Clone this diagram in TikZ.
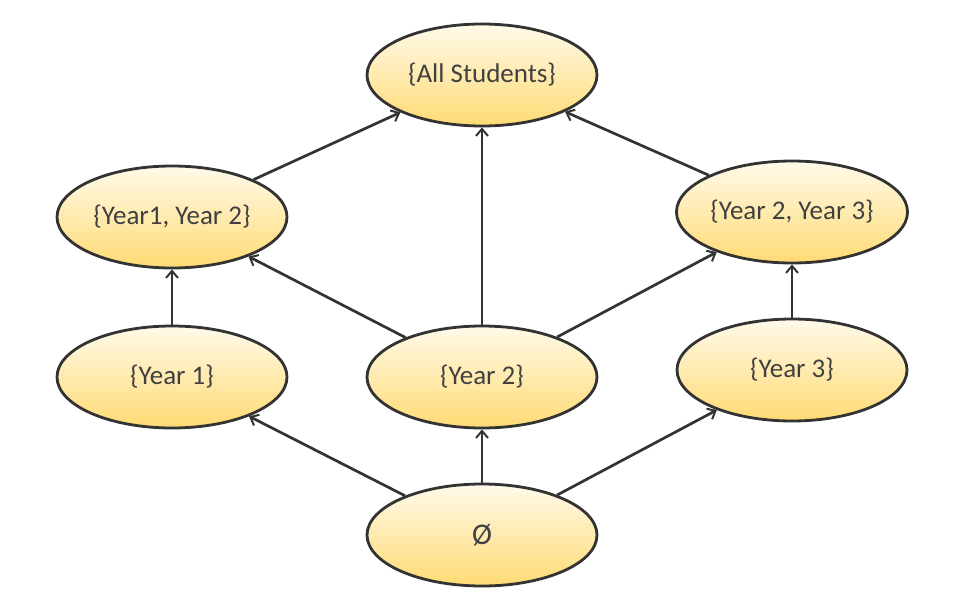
\documentclass[tikz,border=0pt]{standalone}
\usepackage{fontspec}
\setmainfont{Carlito}
\usetikzlibrary{arrows.meta}
\definecolor{edgegray}{HTML}{333333}
\definecolor{textgray}{HTML}{404040}
\definecolor{topyel}{HTML}{FFFAEA}
\definecolor{botyel}{HTML}{FFDB74}
\tikzset{
    EL/.style ={ellipse,minimum width = 230pt, minimum height =102pt, inner sep=0pt, draw=edgegray, line width=2.8pt,
        top color=topyel, bottom color=botyel, text=textgray, font=\fontsize{27}{32}\selectfont},
    AR/.style ={-{Straight Barb[length=7pt,width=12pt,line width=2pt]}, draw=edgegray, line width=2.7pt}}
\usetikzlibrary{shapes.geometric}
\begin{document}
\begin{tikzpicture}[x=1pt,y=-1pt]
        \useasboundingbox (0,0) rectangle (968,600);
        \node[EL] (all) at(482,75){\{All Students\}};
        \node[EL] (y12) at(172,217){\{Year1, Year 2\}}
            edge[AR](all);
        \node[EL] (y23) at(792,212){\{Year 2, Year 3\}}
            edge[AR](all);
        \node[EL] (y1) at(172,377){\{Year 1\}}
            edge[AR](y12);
        \node[EL] (y2) at(482,377){\{Year 2\}}
            edge[AR](y12)
            edge[AR](all)
            edge[AR](y23);
        \node[EL] (y3) at(792,370){\{Year 3\}}
            edge[AR](y23);
        \node[EL] (empty) at(482,535){\fontsize{30}{32}\selectfont Ø}
            edge[AR](y1)
            edge[AR](y2)
            edge[AR](y3);
    \end{tikzpicture}
\end{document}
